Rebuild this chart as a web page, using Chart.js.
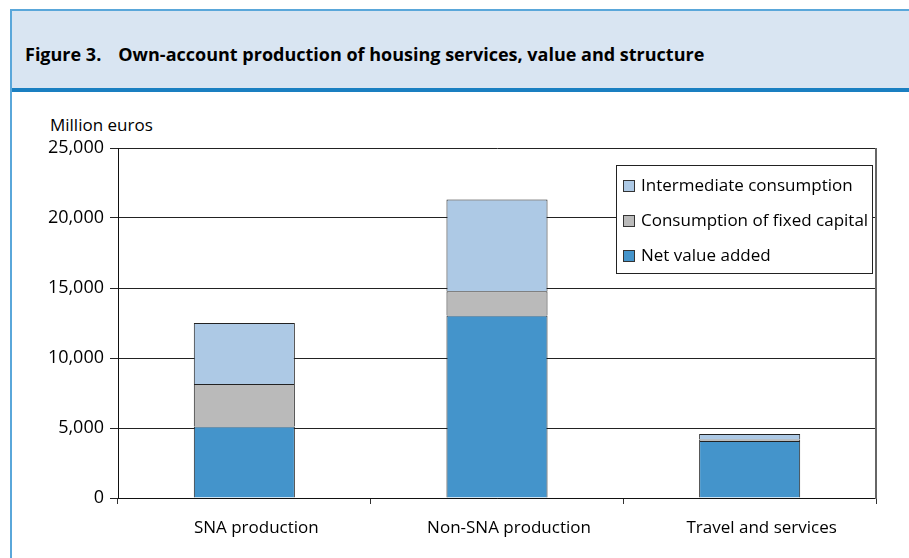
<!DOCTYPE html>
<html>
<head>
<meta charset="utf-8">
<script src="https://cdn.jsdelivr.net/npm/chart.js@4/dist/chart.umd.min.js"></script>
<style>
  html, body { margin: 0; padding: 0; background: #fff; }
  #wrap { position: relative; width: 909px; height: 558px; overflow: hidden; font-family: "Open Sans", sans-serif; }
  #frameLeft { position: absolute; left: 10px; top: 9px; width: 2px; height: 549px; background: #5aa7da; }
  #header { position: absolute; left: 12px; top: 9px; width: 897px; height: 77px; background: #d9e5f2; border-top: 2px solid #5aa7da; border-bottom: 4px solid #1a7fc1; }
  #title { position: absolute; left: 25px; top: 42px; font-weight: bold; font-size: 18px; color: #000; white-space: nowrap; }
  #title span { margin-left: 17px; }
  #unit { position: absolute; left: 50px; top: 113px; font-size: 17px; color: #000; }
  #cv { position: absolute; left: 13px; top: 92px; }
</style>
</head>
<body>
<div id="wrap">
  <div id="header"></div>
  <div id="frameLeft"></div>
  <div id="title">Figure 3.<span>Own-account production of housing services, value and structure</span></div>
  <div id="unit">Million euros</div>
  <canvas id="cv" width="896" height="466"></canvas>
</div>
<script>
const categories = ["SNA production", "Non-SNA production", "Travel and services"];
const netValueAdded = [5100, 13030, 4070];
const consumptionFixedCapital = [3050, 1740, 110];
const intermediateConsumption = [4350, 6560, 390];
const seriesLabels = ["Net value added", "Consumption of fixed capital", "Intermediate consumption"];
const yTicks = [0, 5000, 10000, 15000, 20000, 25000];

const colors = ["#4494cb", "#bababa", "#adc9e5"];

const legendPlugin = {
  id: 'boxLegend',
  afterDraw(chart) {
    const ctx = chart.ctx;
    const area = chart.chartArea;
    const x0 = area.left + 498, y0 = area.top + 17, w = 256, h = 108;
    ctx.save();
    ctx.fillStyle = '#fff';
    ctx.fillRect(x0, y0, w, h);
    ctx.strokeStyle = '#222';
    ctx.lineWidth = 1;
    ctx.strokeRect(x0 + 0.5, y0 + 0.5, w, h);
    const ds = chart.data.datasets.slice().reverse();
    ctx.font = '17px "Open Sans", sans-serif';
    ctx.textBaseline = 'middle';
    ds.forEach((d, i) => {
      const cy = y0 + 21 + i * 35;
      ctx.fillStyle = d.backgroundColor;
      ctx.fillRect(x0 + 7, cy - 6, 12, 12);
      ctx.strokeStyle = '#333';
      ctx.strokeRect(x0 + 7.5, cy - 5.5, 11, 11);
      ctx.fillStyle = '#000';
      ctx.fillText(d.label, x0 + 25, cy);
    });
    // right plot border
    ctx.strokeStyle = '#666';
    ctx.lineWidth = 2;
    ctx.beginPath();
    ctx.moveTo(area.right, area.top);
    ctx.lineTo(area.right, area.bottom + 1);
    ctx.stroke();
    ctx.restore();
  }
};

new Chart(document.getElementById('cv'), {
  type: 'bar',
  data: {
    labels: categories,
    datasets: [
      { label: seriesLabels[0], data: netValueAdded, backgroundColor: colors[0], borderColor: '#222', borderWidth: 1 },
      { label: seriesLabels[1], data: consumptionFixedCapital, backgroundColor: colors[1], borderColor: '#222', borderWidth: 1 },
      { label: seriesLabels[2], data: intermediateConsumption, backgroundColor: colors[2], borderColor: '#222', borderWidth: 1 }
    ]
  },
  options: {
    responsive: false,
    animation: false,
    devicePixelRatio: 1,
    layout: { padding: { left: 0, right: 33, top: 56, bottom: 0 } },
    plugins: { legend: { display: false }, tooltip: { enabled: false }, title: { display: false } },
    datasets: { bar: { barPercentage: 0.8, categoryPercentage: 0.5 } },
    scales: {
      x: {
        stacked: true,
        afterFit(s) { s.height = 60; },
        border: { color: '#111', width: 1 },
        grid: { drawOnChartArea: false, drawTicks: true, tickLength: 6, color: '#333', offset: true },
        ticks: { color: '#000', font: { family: 'Open Sans', size: 17 }, padding: 14, labelOffset: 12 }
      },
      y: {
        stacked: true,
        min: 0, max: 25000,
        afterFit(s) { s.width = 105; },
        afterBuildTicks(s) { s.ticks = yTicks.map(v => ({ value: v })); },
        border: { color: '#111', width: 1 },
        grid: { color: '#222', lineWidth: 1, tickLength: 8 },
        ticks: {
          color: '#000', font: { family: 'Open Sans', size: 18 }, padding: 6,
          callback: v => v.toLocaleString('en-US')
        }
      }
    }
  },
  plugins: [legendPlugin]
});
</script>
</body>
</html>
